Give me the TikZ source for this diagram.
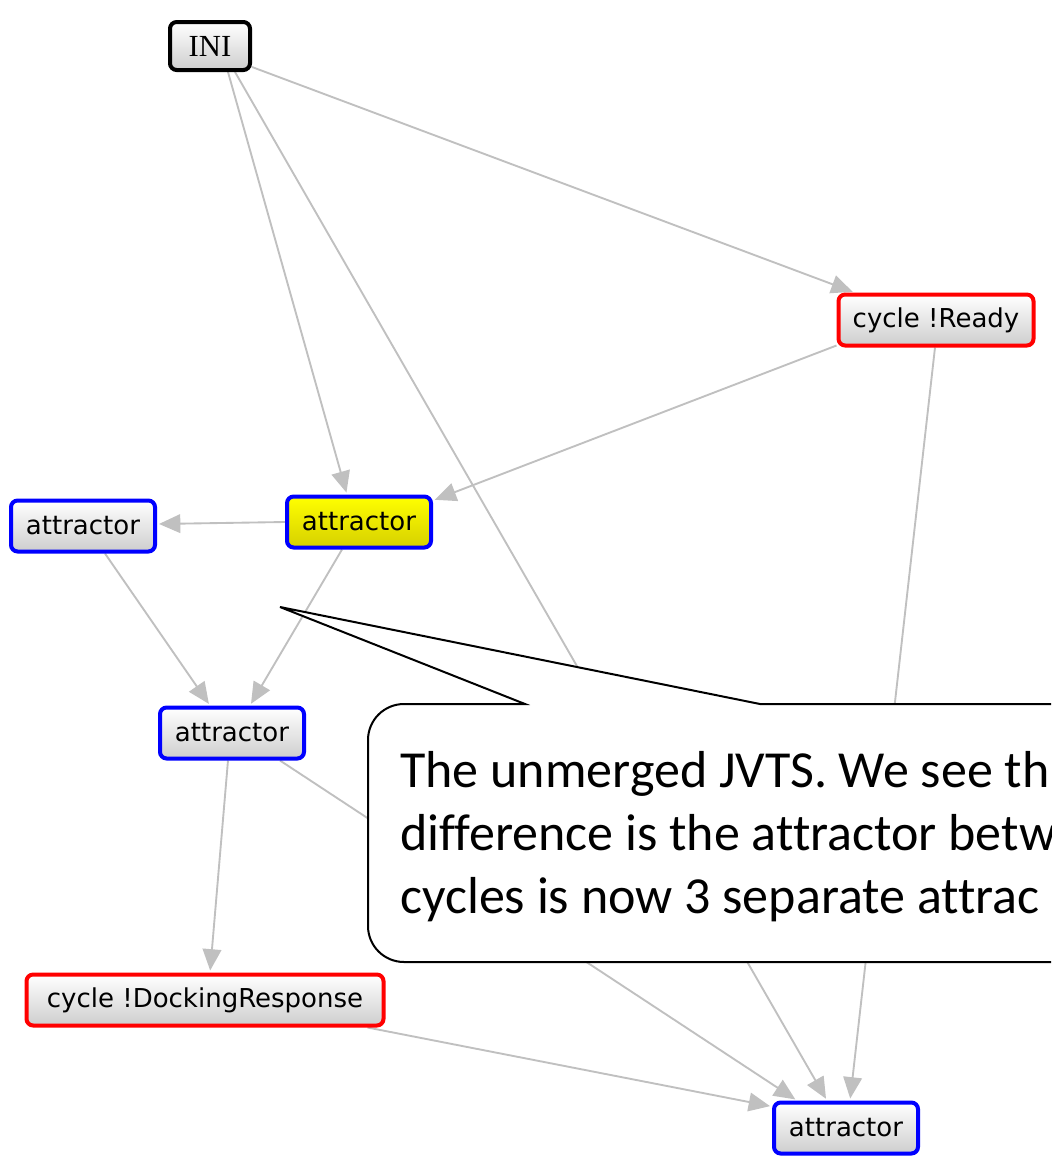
\documentclass[tikz,border=0pt]{standalone}
\usepackage{fontspec}
\setmainfont{Carlito}[Ligatures=NoCommon]
\newfontfamily\labelfont{DejaVu Sans}
\newfontfamily\inifont{Liberation Serif}
\usetikzlibrary{arrows.meta,calc}
\definecolor{edgegray}{RGB}{192,192,192}
\definecolor{nodeblue}{RGB}{0,0,255}
\definecolor{nodered}{RGB}{255,0,0}
\definecolor{shade}{RGB}{206,206,206}
\definecolor{hilite}{RGB}{255,255,0}
\definecolor{hilitedark}{RGB}{214,208,0}
\pgfdeclarelayer{background}
\pgfsetlayers{background,main}
\begin{document}
\begin{tikzpicture}[x=0.75pt,y=-0.75pt,
  state/.style={draw, line width=3pt, rounded corners=5pt, top color=white,
    bottom color=shade, inner sep=0pt, minimum height=38.25pt,
    font=\labelfont\fontsize{19.5}{23}\selectfont},
  attr/.style={state, draw=nodeblue, minimum width=108pt},
  cyc/.style={state, draw=nodered},
  edge/.style={draw=edgegray, line width=1.4pt,
    -{Triangle[length=16pt,width=14pt]}, shorten >=1.5pt},
  callout/.style={draw=black, fill=white, line width=1.5pt},
  notetext/.style={anchor=base west, inner sep=0pt,
    font=\fontsize{39}{47}\selectfont}
]
\useasboundingbox (0,0) rectangle (1051,1161);
\clip (0,0) rectangle (1051,1161);

% states
\node[state, draw=black, minimum width=60pt, minimum height=36pt,
  font=\inifont\fontsize{23}{27}\selectfont] (ini) at (210,46) {INI};
\node[cyc, minimum width=146.25pt] (ready) at (936,320) {cycle !Ready};
\node[attr, top color=hilite, bottom color=hilitedark] (hub) at (359,522) {attractor};
\node[attr] (left) at (83,526) {attractor};
\node[attr] (mid) at (232,733) {attractor};
\node[cyc, minimum width=267.75pt] (dock) at (205,1000) {cycle !DockingResponse};
\node[attr] (sink) at (846,1128) {attractor};

% transitions, kept behind the states
\begin{pgfonlayer}{background}
\fill[white] (0,0) rectangle (1051,1161);
\draw[edge] ($(ini.south east)+(0,-5)$) -- ($(ready.north west)+(18,0)$);
\draw[edge] ($(ini.south)+(18,0)$) -- ($(hub.north)+(-12,0)$);
\draw[edge] ($(ini.south)+(25,0)$) -- ($(sink.north)+(-19,0)$);
\draw[edge] ($(ready.south west)+(0,-2)$) -- ($(hub.north east)+(0,6)$);
\draw[edge] ($(ready.south)+(-1,0)$) -- ($(sink.north)+(4,0)$);
\draw[edge] (hub.west) -- ($(left.east)+(0,-2)$);
\draw[edge] ($(hub.south)+(-17,0)$) -- ($(mid.north)+(18,0)$);
\draw[edge] ($(left.south)+(22,0)$) -- ($(mid.north)+(-22,0)$);
\draw[edge] ($(mid.south)+(-4,0)$) -- ($(dock.north)+(5,0)$);
\draw[edge] ($(mid.south)+(48,0)$) -- ($(sink.north)+(-49,0)$);
\draw[edge] ($(dock.south east)+(-18,0)$) -- ($(sink.north west)+(0,6)$);
\end{pgfonlayer}

% speech bubble
\coordinate (tip) at (280,607);
\draw[callout] (700,962) [rounded corners=27pt] -- (368,962) -- (368,704)
  -- (450,704) [sharp corners] -- (525,704) -- (tip) -- (760,704)
  -- (1120,704) -- (1120,962) -- cycle;
\node[notetext] (line1) at (400,787) {The unmerged JVTS. We see th};
\node[notetext] (line2) at (400,850) {difference is the attractor betw};
\node[notetext] (line3) at (400,913) {cycles is now 3 separate attrac};
\end{tikzpicture}
\end{document}
